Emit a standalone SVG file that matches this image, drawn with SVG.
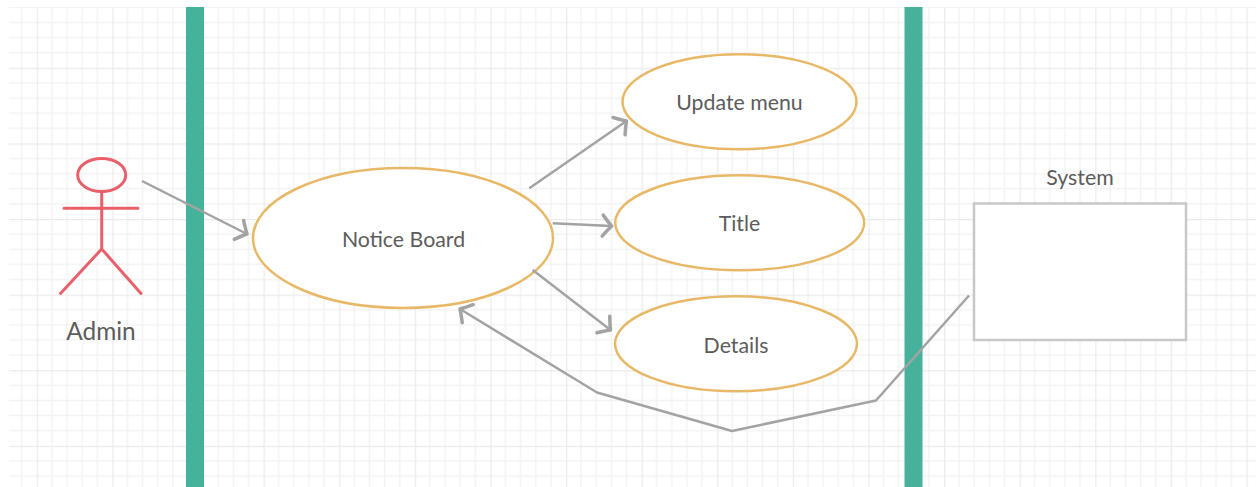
<svg xmlns="http://www.w3.org/2000/svg" width="1256" height="487" viewBox="0 0 1256 487">
<defs>
<pattern id="grid" patternUnits="userSpaceOnUse" x="36.8" y="67.8" width="75.6" height="75.6">
<path d="M15.12 0V75.6M30.24 0V75.6M45.36 0V75.6M60.48 0V75.6M0 15.12H75.6M0 30.24H75.6M0 45.36H75.6M0 60.48H75.6" stroke="#f3f3f3" stroke-width="1.5" fill="none"/>
<path d="M0.5 0V75.6M0 0.5H75.6" stroke="#ebebeb" stroke-width="1.5" fill="none"/>
</pattern>
<marker id="arr" markerUnits="userSpaceOnUse" viewBox="-14 -14 18 28" markerWidth="18" markerHeight="28" refX="0" refY="0" orient="auto" overflow="visible">
<path d="M-9,-10.5 Q-3,-3 0,0 Q-3,3 -9,10.5" fill="none" stroke="#a3a3a3" stroke-width="3.5" stroke-linecap="round" stroke-linejoin="round"/>
</marker>
<style>
.lbl{font-family:Lato,"Open Sans","Liberation Sans",sans-serif;fill:#5c5c5c;text-anchor:middle}
.uc{fill:#ffffff;stroke:#e8b867;stroke-width:2.5}
.con{fill:none;stroke:#a3a3a3;stroke-width:2.5;stroke-linejoin:round}
.bar{fill:#46b29b}
.actor{fill:none;stroke:#e9606a;stroke-width:3;stroke-linecap:round}
</style>
</defs>
<rect x="0" y="0" width="1256" height="487" fill="#ffffff"/>
<rect x="9" y="7" width="1247" height="480" fill="url(#grid)"/>
<rect class="bar" x="186" y="7" width="18" height="480"/>
<rect class="bar" x="904.5" y="7" width="18" height="480"/>

<g id="admin">
<ellipse class="actor" cx="101.7" cy="175" rx="24" ry="16.5"/>
<path class="actor" d="M101.7 191.5V249M64 208.3H138M101.7 249L60.5 293.5M101.7 249L141 293.5"/>
<text class="lbl" x="101" y="339.5" font-size="24.4">Admin</text>
</g>

<g id="notice-board">
<ellipse class="uc" cx="403" cy="238" rx="150" ry="70"/>
<text class="lbl" x="403.5" y="246.8" font-size="21.3">Notice Board</text>
</g>

<g id="update-menu">
<ellipse class="uc" cx="739.5" cy="101.7" rx="117" ry="47.5"/>
<text class="lbl" x="739.5" y="109.5" font-size="21.3">Update menu</text>
</g>

<g id="title">
<ellipse class="uc" cx="739.7" cy="222.8" rx="124.5" ry="47.5"/>
<text class="lbl" x="739.5" y="231" font-size="21.3">Title</text>
</g>

<g id="details">
<ellipse class="uc" cx="736" cy="343.8" rx="121" ry="47.5"/>
<text class="lbl" x="736" y="352.5" font-size="21.3">Details</text>
</g>

<g id="system">
<rect x="974" y="203.5" width="212" height="136.5" fill="#ffffff" stroke="#c8c8c8" stroke-width="2.5"/>
<text class="lbl" x="1080" y="184.5" font-size="21.3">System</text>
</g>

<g id="connectors">
<path class="con" d="M142 181L247 234" marker-end="url(#arr)"/>
<path class="con" d="M529.3 188.3L626.5 121" marker-end="url(#arr)"/>
<path class="con" d="M552.7 223.3L611.7 226" marker-end="url(#arr)"/>
<path class="con" d="M532.7 270L610.5 330" marker-end="url(#arr)"/>
<path class="con" d="M969 295.5L876 400.5L732 431L597 392.5L460 309" marker-end="url(#arr)"/>
</g>
</svg>
